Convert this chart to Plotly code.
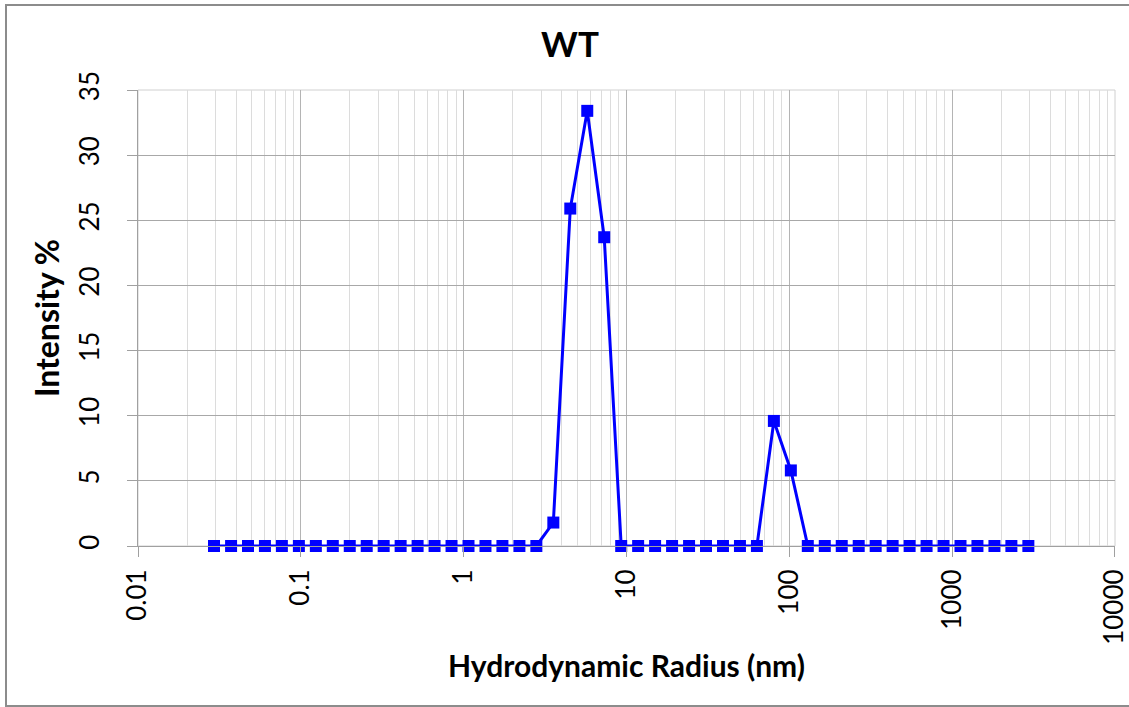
import plotly.graph_objects as go

radius_nm = [0.0293, 0.0373, 0.0474, 0.0602, 0.0765, 0.0973, 0.1237, 0.1572, 0.1998, 0.2540,
             0.3228, 0.4103, 0.5216, 0.6630, 0.8428, 1.0715, 1.362, 1.731, 2.201, 2.797,
             3.556, 4.520, 5.746, 7.304, 9.286, 11.80, 15.00, 19.07, 24.25, 30.82,
             39.17, 49.80, 63.31, 80.47, 102.3, 130.0, 165.3, 210.1, 267.1, 339.5,
             431.5, 548.6, 697.3, 886.4, 1126.8, 1432, 1821, 2314, 2942]
intensity_pct = [0, 0, 0, 0, 0, 0, 0, 0, 0, 0,
                 0, 0, 0, 0, 0, 0, 0, 0, 0, 0,
                 1.8, 25.9, 33.4, 23.7, 0, 0, 0, 0, 0, 0,
                 0, 0, 0, 9.6, 5.8, 0, 0, 0, 0, 0,
                 0, 0, 0, 0, 0, 0, 0, 0, 0]
x_tick_vals = [0.01, 0.1, 1, 10, 100, 1000, 10000]
x_tick_text = ["0.01", "0.1", "1", "10", "100", "1000", "10000"]
y_tick_vals = [0, 5, 10, 15, 20, 25, 30, 35]

FONT = "Lato"

fig = go.Figure()
fig.add_trace(go.Scatter(
    x=radius_nm, y=intensity_pct, mode="lines+markers",
    line=dict(color="#0000FF", width=3),
    marker=dict(symbol="square", size=12, color="#0000FF", line=dict(width=0)),
    showlegend=False, cliponaxis=False,
))

fig.update_layout(
    width=1129, height=707,
    margin=dict(l=138, r=14, t=90, b=161),
    paper_bgcolor="white", plot_bgcolor="white",
    font=dict(family=FONT, color="black"),
    title=dict(text="<b>WT</b>", x=570 / 1129, xref="container", xanchor="center",
               y=1 - 45 / 707, yref="container", yanchor="middle", font=dict(size=35, family=FONT)),
    shapes=[dict(type="rect", xref="paper", yref="paper",
                 x0=(6 - 138) / 977, x1=1.03, y0=(546 - 706) / 456, y1=(546 - 5) / 456,
                 line=dict(color="#8c8c8c", width=2), layer="below")],
)

fig.update_xaxes(
    type="log", range=[-2, 4.0008], automargin=False,
    tickmode="array", tickvals=x_tick_vals, ticktext=x_tick_text,
    tickangle=-90, tickfont=dict(size=26, family=FONT),
    ticks="outside", ticklen=10, tickcolor="#a0a0a0", tickwidth=1,
    ticklabelstandoff=2, ticklabeloverflow="allow",
    showline=True, linecolor="#a0a0a0", linewidth=1, mirror=False,
    showgrid=True, gridcolor="#b4b4b4", gridwidth=1,
    minor=dict(showgrid=True, gridcolor="#dcdcdc", gridwidth=1, dtick="D1", ticks=""),
    title=dict(text="<b>Hydrodynamic Radius (nm)</b>", font=dict(size=30, family=FONT), standoff=12),
    zeroline=False,
)
fig.update_yaxes(
    range=[0, 35], tickmode="array", tickvals=y_tick_vals, automargin=False,
    tickangle=-90, tickfont=dict(size=26, family=FONT),
    ticks="outside", ticklen=10, tickcolor="#a0a0a0", tickwidth=1,
    ticklabelstandoff=18,
    showline=True, linecolor="#a0a0a0", linewidth=1,
    showgrid=True, gridcolor="#a8a8a8", gridwidth=1,
    title=dict(text="<b>Intensity %</b>", font=dict(size=32, family=FONT), standoff=3),
    zeroline=False,
)

fig.add_shape(type="rect", xref="paper", yref="paper", x0=0, x1=1, y0=0, y1=1,
              line=dict(color="#d0d0d0", width=1), layer="below")

fig.write_html("out.html")
